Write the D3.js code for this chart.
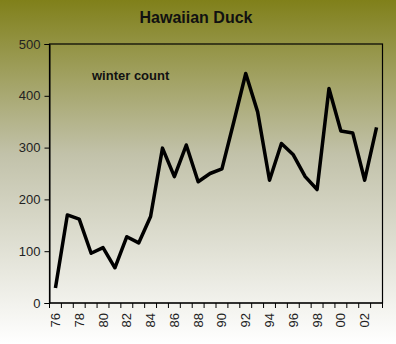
<!DOCTYPE html>
<html><head><meta charset="utf-8">
<script src="https://cdn.jsdelivr.net/npm/d3@7"></script>
<style>body{margin:0;padding:0;overflow:hidden}svg{display:block}text{font-family:Arial,"Liberation Sans",sans-serif}</style>
</head><body>
<script>
const years = ["76","77","78","79","80","81","82","83","84","85","86","87","88","89","90","91","92","93","94","95","96","97","98","99","00","01","02","03"];
const counts = [29,170,162,96,107,68,128,116,167,299,244,305,234,250,259,350,443,369,237,308,286,244,219,414,332,328,237,339];
const yTicks = [0,100,200,300,400,500];
const labelYears = ["76","78","80","82","84","86","88","90","92","94","96","98","00","02"];

const W=396,H=344;
const m={l:49.5,r:382.5,t:44,b:303};
const svg=d3.select("body").append("svg").attr("width",W).attr("height",H);
const defs=svg.append("defs");
const g=defs.append("linearGradient").attr("id","bg").attr("x1",0).attr("y1",0).attr("x2",0).attr("y2",1);
g.append("stop").attr("offset","0%").attr("stop-color","#80801a");
g.append("stop").attr("offset","45%").attr("stop-color","#c2c2aa");
g.append("stop").attr("offset","100%").attr("stop-color","#ffffff");
svg.append("rect").attr("width",W).attr("height",H).attr("fill","url(#bg)");

const x=d3.scaleBand().domain(years).range([m.l,m.r]).padding(0);
const y=d3.scaleLinear().domain([0,500]).range([m.b,m.t]);

svg.append("text").attr("x",196).attr("y",23).attr("text-anchor","middle")
  .attr("font-size","16px").attr("font-weight","bold").attr("fill","#111").text("Hawaiian Duck");

// plot box
svg.append("rect").attr("x",m.l).attr("y",m.t).attr("width",m.r-m.l).attr("height",m.b-m.t)
  .attr("fill","none").attr("stroke","#000").attr("stroke-width",1.2);

// y axis
const ya=svg.append("g").attr("transform",`translate(${m.l},0)`)
  .call(d3.axisLeft(y).tickValues(yTicks).tickSize(5).tickPadding(4));
ya.select(".domain").attr("stroke","#000");
ya.selectAll("text").attr("font-size","13px").attr("fill","#222").attr("font-family","Arial, 'Liberation Sans', sans-serif");

// x axis ticks at category boundaries
const xa=svg.append("g").attr("transform",`translate(0,${m.b})`);
const bounds=years.map(d=>x(d)).concat([x(years[years.length-1])+x.bandwidth()]);
xa.selectAll("line.t").data(bounds).join("line").attr("class","t")
  .attr("x1",d=>d).attr("x2",d=>d).attr("y1",0).attr("y2",5).attr("stroke","#000");
xa.append("line").attr("x1",m.l).attr("x2",m.r).attr("stroke","#000");
xa.selectAll("text").data(labelYears).join("text")
  .attr("transform",d=>`translate(${x(d)+x.bandwidth()/2+4.5},10) rotate(-90)`)
  .attr("text-anchor","end").attr("font-size","13px").attr("fill","#222").text(d=>d);

svg.append("text").attr("x",92).attr("y",80).attr("font-size","13px").attr("font-weight","bold")
  .attr("fill","#111").text("winter count");

const line=d3.line().x((d,i)=>x(years[i])+x.bandwidth()/2).y(d=>y(d));
svg.append("path").datum(counts).attr("d",line).attr("fill","none").attr("stroke","#000")
  .attr("stroke-width",3.5).attr("stroke-linejoin","round");
</script>
</body></html>
